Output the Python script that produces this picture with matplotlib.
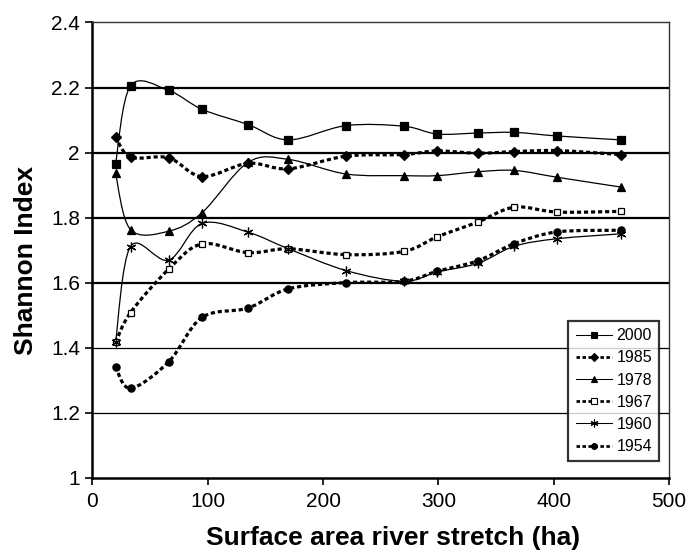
import numpy as np
import matplotlib
matplotlib.use("Agg")
import matplotlib.pyplot as plt
from matplotlib.path import Path
from matplotlib.patches import PathPatch
from matplotlib.lines import Line2D

plt.rcParams['font.family'] = ['Liberation Sans', 'DejaVu Sans']

# ---- data ----
area = [20, 33, 66, 95, 135, 170, 220, 270, 299, 334, 366, 403, 458]
years = ["2000", "1985", "1978", "1967", "1960", "1954"]
y2000 = [1.965, 2.205, 2.191, 2.133, 2.086, 2.039, 2.083, 2.081, 2.057, 2.060, 2.062, 2.051, 2.039]
y1985 = [2.049, 1.986, 1.984, 1.926, 1.967, 1.950, 1.989, 1.994, 2.005, 1.998, 2.003, 2.006, 1.994]
y1978 = [1.936, 1.763, 1.758, 1.815, 1.970, 1.979, 1.934, 1.929, 1.929, 1.941, 1.945, 1.924, 1.894]
y1967 = [1.416, 1.508, 1.641, 1.719, 1.692, 1.704, 1.686, 1.696, 1.741, 1.786, 1.832, 1.817, 1.819]
y1960 = [1.416, 1.711, 1.669, 1.782, 1.755, 1.704, 1.637, 1.604, 1.633, 1.659, 1.712, 1.735, 1.750]
y1954 = [1.342, 1.275, 1.356, 1.493, 1.522, 1.581, 1.600, 1.604, 1.635, 1.667, 1.720, 1.756, 1.761]
series = [y2000, y1985, y1978, y1967, y1960, y1954]

xticks = [0, 100, 200, 300, 400, 500]
yticks = [1, 1.2, 1.4, 1.6, 1.8, 2, 2.2, 2.4]
yticklabels = ["1", "1.2", "1.4", "1.6", "1.8", "2", "2.2", "2.4"]

# ---- styles ----
dotted = (0, (1.3, 0.9))
styles = [
    dict(ls='-', lw=0.9, marker='s', ms=5.2, mfc='black'),
    dict(ls=dotted, lw=2.3, marker='D', ms=4.6, mfc='black'),
    dict(ls='-', lw=0.9, marker='^', ms=6.0, mfc='black'),
    dict(ls=dotted, lw=2.3, marker='s', ms=5.0, mfc='white'),
    dict(ls='-', lw=0.9, marker=(6, 2, 0), ms=7.0, mfc='black'),
    dict(ls=dotted, lw=2.3, marker='o', ms=5.2, mfc='black'),
]


def smooth_path(x, y):
    pts = np.column_stack([x, y]).astype(float)
    n = len(pts)
    verts = [pts[0]]
    codes = [Path.MOVETO]
    for i in range(n - 1):
        p0 = pts[i - 1] if i > 0 else pts[i]
        p1 = pts[i]
        p2 = pts[i + 1]
        p3 = pts[i + 2] if i + 2 < n else pts[i + 1]
        c1 = p1 + (p2 - p0) / 6.0
        c2 = p2 - (p3 - p1) / 6.0
        verts += [c1, c2, p2]
        codes += [Path.CURVE4] * 3
    return Path(verts, codes)


fig = plt.figure(figsize=(6.88, 5.54), dpi=100)
ax = fig.add_axes([0.1344, 0.1377, 0.9724 - 0.1344, 0.9594 - 0.1377])

ax.set_xlim(0, 500)
ax.set_ylim(1, 2.4)

# gridlines
for g in [1.2, 1.4, 1.6, 1.8, 2.0, 2.2]:
    lw = 1.6 if g >= 1.6 else 0.9
    ax.axhline(g, color='black', lw=lw, zorder=1)

handles = []
for yvals, st, lab in zip(series, styles, years):
    patch = PathPatch(smooth_path(area, yvals), facecolor='none', edgecolor='black',
                      lw=st['lw'], linestyle=st['ls'], zorder=2, capstyle='butt')
    ax.add_patch(patch)
    ax.plot(area, yvals, linestyle='none', marker=st['marker'], ms=st['ms'],
            mfc=st['mfc'], mec='black', mew=0.9, zorder=3)
    handles.append(Line2D([], [], color='black', lw=st['lw'] * 0.85, linestyle=st['ls'],
                          marker=st['marker'], ms=st['ms'] * 0.8, mfc=st['mfc'],
                          mec='black', mew=0.8, label=lab))

ax.set_xticks(xticks)
ax.set_yticks(yticks)
ax.set_yticklabels(yticklabels)
ax.tick_params(axis='both', labelsize=15, colors='black', length=5, width=1.2,
               direction='out')
ax.tick_params(axis='y', pad=4)
ax.tick_params(axis='x', pad=5)

for side in ['left', 'bottom']:
    ax.spines[side].set_linewidth(1.8)
    ax.spines[side].set_color('black')
for side in ['top', 'right']:
    ax.spines[side].set_linewidth(1.0)
    ax.spines[side].set_color('#333333')

ax.set_xlabel("Surface area river stretch (ha)", fontsize=19, fontweight='bold', labelpad=11)
ax.xaxis.label.set_x(0.522)
ax.set_ylabel("Shannon Index", fontsize=19, fontweight='bold')
ax.yaxis.set_label_coords(-0.095, 0.478)

leg = ax.legend(handles=handles, loc='lower right', bbox_to_anchor=(0.983, 0.036),
                fontsize=11.5, frameon=True, fancybox=False, handlelength=2.3,
                handletextpad=0.25, borderpad=0.45, labelspacing=0.45, borderaxespad=0)
leg.get_frame().set_edgecolor('black')
leg.get_frame().set_linewidth(1.6)
leg.set_zorder(5)

fig.savefig("out.png", dpi=100)
